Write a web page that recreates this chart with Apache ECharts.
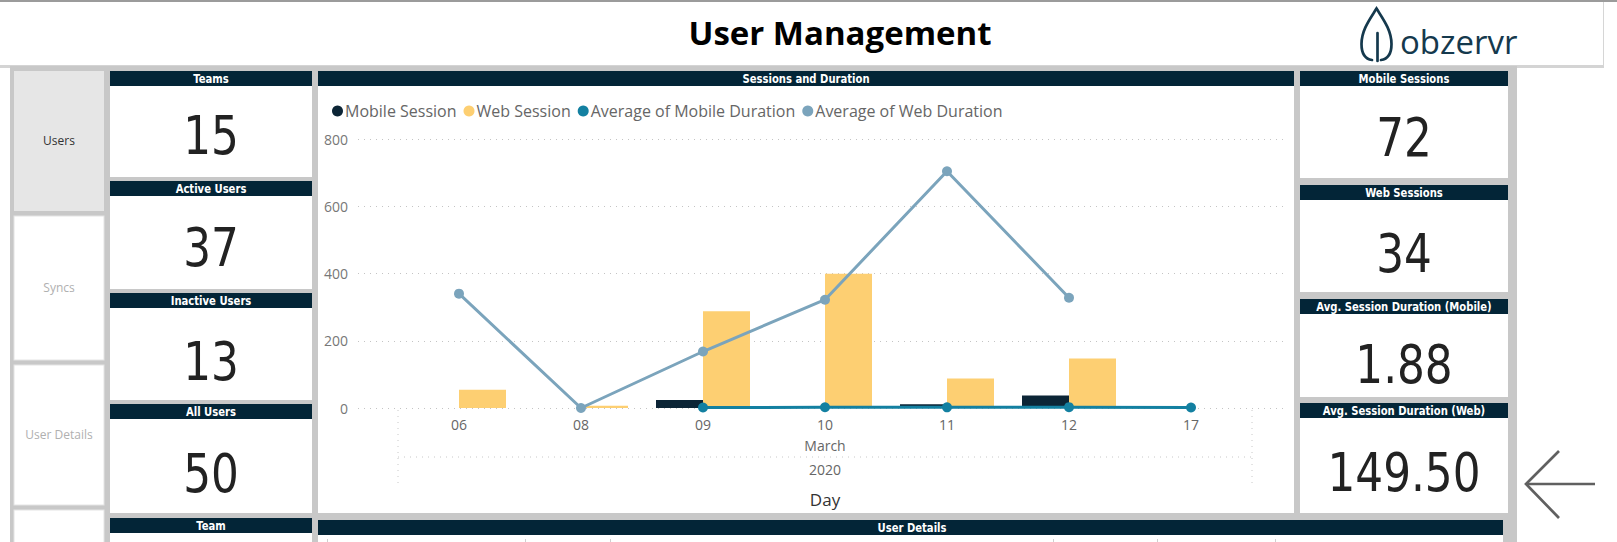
<!DOCTYPE html>
<html>
<head>
<meta charset="utf-8">
<script src="https://cdn.jsdelivr.net/npm/echarts@6/dist/echarts.min.js"></script>
<style>
  html, body { margin:0; padding:0; background:#fff; }
  #page { position:relative; width:1617px; height:542px; overflow:hidden; background:#fff; }
  #chrome { position:absolute; left:0; top:0; }
  #chart { position:absolute; left:318px; top:86px; width:976px; height:427px; }
</style>
</head>
<body>
<div id="page">
  <svg id="chrome" width="1617" height="542" xmlns="http://www.w3.org/2000/svg"></svg>
  <div id="chart"></div>
</div>
<script>
// ---------------- DATA ----------------
const days = ['06', '08', '09', '10', '11', '12', '17'];
const monthLabel = ['March'];
const yearLabel = ['2020'];
const mobileSession = [null, null, 24, null, 11, 37, null];
const webSession = [54, 7, 288, 399, 88, 147, null];
const avgMobileDuration = [null, null, 1.5, 2.1, 1.9, 2.4, 1.6];
const avgWebDuration = [340, 0, 168, 322, 704, 328, null];
const yTickLabels = ['0', '200', '400', '600', '800'];

const pageTitle = 'User Management';
const navLabels = ['Users', 'Syncs', 'User Details', ''];
const leftCardTitles = ['Teams', 'Active Users', 'Inactive Users', 'All Users', 'Team'];
const leftCardValues = ['15', '37', '13', '50', ''];
const rightCardTitles = ['Mobile Sessions', 'Web Sessions', 'Avg. Session Duration (Mobile)', 'Avg. Session Duration (Web)'];
const rightCardValues = ['72', '34', '1.88', '149.50'];
const chartTitle = 'Sessions and Duration';
const tableTitle = 'User Details';
const seriesNames = ['Mobile Session', 'Web Session', 'Average of Mobile Duration', 'Average of Web Duration'];

// ---------------- STYLE / LAYOUT ----------------
const NAVY = '#032537';
const GRAY = '#c8c8c8';
const UI_FONT = "'Open Sans','Noto Sans',sans-serif";
const NUM_FONT = "'Liberation Sans Narrow','DejaVu Sans Condensed',sans-serif";
const colors = ['#0c2536', '#fdcf72', '#1380a1', '#7ba4bc'];

const svg = document.getElementById('chrome');
let parts = [];
function esc(s){ return String(s).replace(/&/g,'&amp;').replace(/</g,'&lt;'); }
function rect(x,y,w,h,fill,stroke){ parts.push(`<rect x="${x}" y="${y}" width="${w}" height="${h}" fill="${fill}"${stroke?` stroke="${stroke}" stroke-width="1"`:''}/>`); }
function text(x,y,s,size,color,family,weight,anchor,sx){
  parts.push(`<text transform="translate(${x},${y}) scale(${sx||1},1)" x="0" y="0" font-size="${size}" fill="${color}" font-family="${family}" font-weight="${weight||'normal'}" text-anchor="${anchor||'middle'}">${esc(s)}</text>`);
}

// top line + header box
rect(0,0,1617,2,'#9b9b9b');
rect(0,65,1604,3,'#d4d4d4');
rect(1603,2,1,64,'#d6d6d6');
text(840,45,pageTitle,33,'#000',UI_FONT,'bold');

// logo
parts.push(`<g transform="translate(1360,7)" fill="none" stroke="#15394d" stroke-width="2.7" stroke-linecap="round">
  <path d="M12,53 C5,52 1.5,46 1.5,37 C1.5,23 10,12 16.5,1.5 C23,12 31.5,23 31.5,37 C31.5,46 28,52 21,53"/>
  <path d="M17.5,26 L17.5,54"/>
</g>`);
text(1400,54,'obzervr',33,'#15394d',UI_FONT,'normal','start');

// gray container
rect(10,66,1507,476,GRAY);

// nav buttons
const navTops = [71, 216, 365, 510];
const navBottoms = [211, 360, 505, 560];
navLabels.forEach((lab,i)=>{
  const active = i===0;
  rect(14,navTops[i],90,navBottoms[i]-navTops[i], active?'#e6e6e6':'#ffffff', active?null:'#e4e4e4');
  if(lab) text(59,(navTops[i]+navBottoms[i])/2+4.3,lab,12,active?'#333':'#b0b0b0',UI_FONT);
});

// cards
function card(x,w,top,bottom,title,value,valueY){
  rect(x,top,w,15,NAVY);
  rect(x,top+15,w,bottom-top-15,'#fff');
  text(x+w/2,top+12,title,13,'#fff',NUM_FONT,'bold','middle',0.86);
  if(value) text(x+w/2,valueY+19,value,54,'#222',NUM_FONT,'normal','middle',0.9);
}
const leftTops=[71,181,293,404,518], leftBottoms=[177,289,400,513,560], leftValueY=[135,247,361,473,0];
leftCardTitles.forEach((t,i)=>card(110,202,leftTops[i],leftBottoms[i],t,leftCardValues[i],leftValueY[i]));
const rightTops=[71,185,299,403], rightBottoms=[178,292,397,513], rightValueY=[137,253,364,472];
rightCardTitles.forEach((t,i)=>card(1300,208,rightTops[i],rightBottoms[i],t,rightCardValues[i],rightValueY[i]));

// chart panel
rect(318,71,976,15,NAVY);
rect(318,86,976,427,'#fff');
text(806,83,chartTitle,13,'#fff',NUM_FONT,'bold','middle',0.86);

// table panel
rect(318,520,1185,15,NAVY);
rect(318,535,1185,10,'#fff');
text(912,532,tableTitle,13,'#fff',NUM_FONT,'bold','middle',0.86);
[327,525,610,1053,1157,1275].forEach(x=>rect(x,539,1,3,'#cfcfcf'));

// back arrow
parts.push(`<g fill="none" stroke="#606060" stroke-width="2.7">
  <polyline points="1559,451 1526,484 1559,518"/>
  <line x1="1526" y1="484" x2="1595" y2="484"/>
</g>`);

svg.innerHTML = parts.join('\n');

// ---------------- CHART ----------------
const chart = echarts.init(document.getElementById('chart'), null, {renderer:'svg'});
const axisTxt = {color:'#666', fontSize:14, fontFamily:UI_FONT};
const hidden = {axisLine:{show:false}, axisTick:{show:false}, splitLine:{show:false}};
chart.setOption({
  animation:false,
  textStyle:{fontFamily:UI_FONT},
  legend:{
    left:9, top:12, itemWidth:11, itemHeight:11, itemGap:7, icon:'circle',
    textStyle:{fontSize:16, color:'#666', fontFamily:UI_FONT, padding:[0,0,0,-3]},
    data:seriesNames
  },
  grid:[
    {left:40, top:53, width:926, height:269},
    {left:80, top:53, width:854, height:269}
  ],
  xAxis:[
    {gridIndex:0, type:'value', show:false, min:0, max:1},
    Object.assign({gridIndex:1, type:'category', data:days, axisLabel:Object.assign({margin:9},axisTxt)}, hidden),
    Object.assign({gridIndex:1, type:'category', data:monthLabel, position:'bottom', offset:21, axisLabel:Object.assign({margin:9},axisTxt)}, hidden),
    Object.assign({gridIndex:1, type:'category', data:yearLabel, position:'bottom', offset:45, axisLabel:Object.assign({margin:9},axisTxt),
      name:'Day', nameLocation:'middle', nameGap:38, nameTextStyle:{fontSize:17, color:'#333', fontFamily:UI_FONT}}, hidden)
  ],
  yAxis:[
    {gridIndex:0, type:'value', min:0, max:800, interval:200,
      axisLine:{show:false}, axisTick:{show:false},
      axisLabel:{color:'#777', fontSize:14, margin:10, fontFamily:UI_FONT, formatter:(v)=>yTickLabels[v/200]},
      splitLine:{show:true, lineStyle:{color:'#c4c4c4', width:1, type:[1,5]}}},
    {gridIndex:1, type:'value', min:0, max:800, interval:200, show:false, splitLine:{show:false}}
  ],
  series:[
    {name:seriesNames[0], type:'bar', xAxisIndex:1, yAxisIndex:1, data:mobileSession, barWidth:47, barGap:'0%', itemStyle:{color:colors[0]}},
    {name:seriesNames[1], type:'bar', xAxisIndex:1, yAxisIndex:1, data:webSession, barWidth:47, barGap:'0%', itemStyle:{color:colors[1]}},
    {name:seriesNames[2], type:'line', xAxisIndex:1, yAxisIndex:1, data:avgMobileDuration, symbol:'circle', symbolSize:10, showAllSymbol:true, z:4,
      lineStyle:{width:3, color:colors[2]}, itemStyle:{color:colors[2]}},
    {name:seriesNames[3], type:'line', xAxisIndex:1, yAxisIndex:1, data:avgWebDuration, symbol:'circle', symbolSize:10, showAllSymbol:true, z:3,
      lineStyle:{width:3, color:colors[3]}, itemStyle:{color:colors[3]}}
  ],
  graphic:[
    {type:'line', shape:{x1:80, y1:371, x2:934, y2:371}, style:{stroke:'#c8c8c8', lineWidth:1, lineDash:[1,5]}},
    {type:'line', shape:{x1:80, y1:324, x2:80, y2:397}, style:{stroke:'#c8c8c8', lineWidth:1, lineDash:[1,5]}},
    {type:'line', shape:{x1:934, y1:324, x2:934, y2:397}, style:{stroke:'#c8c8c8', lineWidth:1, lineDash:[1,5]}}
  ]
});
</script>
</body>
</html>
